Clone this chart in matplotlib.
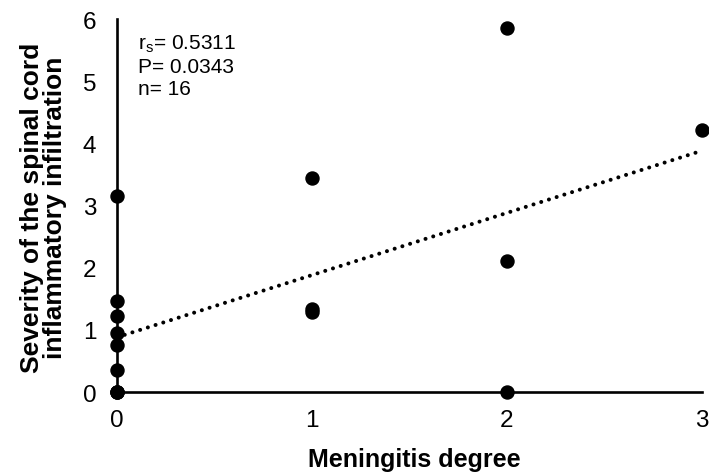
import numpy as np
import matplotlib
matplotlib.use("Agg")
import matplotlib.pyplot as plt

# meningitis degree vs spinal cord infiltration score (n = 16)
meningitis = [0, 0, 0, 0, 0, 0, 0, 0, 0, 1, 1, 1, 2, 2, 2, 3]
severity = [3.15, 1.46, 1.22, 0.95, 0.76, 0.35, 0, 0, 0,
            3.44, 1.33, 1.28, 5.85, 2.10, 0, 4.21]
x_ticks = [0, 1, 2, 3]
y_ticks = [0, 1, 2, 3, 4, 5, 6]
stats_text = "r$_\\mathregular{s}$= 0.5311\nP= 0.0343\nn= 16"

plt.rcParams['font.family'] = ['Liberation Sans', 'DejaVu Sans']

fig = plt.figure(figsize=(7.09, 4.77), dpi=100)
ax = fig.add_axes([0.165, 0.176, 0.825, 0.782])

ax.scatter(meningitis, severity, s=88, color='black', zorder=3, clip_on=False)

# linear trend line
slope, intercept = np.polyfit(meningitis, severity, 1)
xl = np.array([0, 3])
ax.plot(xl, slope * xl + intercept, color='black', lw=2.9,
        linestyle=(0, (0.01, 2.0)), dash_capstyle='round', zorder=2)

ax.set_xlim(0, 3)
ax.set_ylim(0, 6)
ax.set_xticks(x_ticks)
ax.set_yticks(y_ticks)
ax.tick_params(length=0, labelsize=17.5)
ax.tick_params(axis='x', pad=12.5)
ax.tick_params(axis='y', pad=15)

for s in ['top', 'right']:
    ax.spines[s].set_visible(False)
for s in ['left', 'bottom']:
    ax.spines[s].set_linewidth(1.9)

ax.set_xlabel('Meningitis degree', fontsize=18, fontweight='bold')
ax.xaxis.set_label_coords(0.509, -0.147)
ax.set_ylabel('Severity of the spinal cord\ninflammatory infiltration',
              fontsize=19, fontweight='bold', linespacing=0.92)
ax.yaxis.set_label_coords(-0.086, 0.497)

ax.text(0.036, 0.965, stats_text, transform=ax.transAxes, fontsize=15,
        va='top', ha='left', linespacing=1.2)

fig.savefig('out.png', dpi=100)
